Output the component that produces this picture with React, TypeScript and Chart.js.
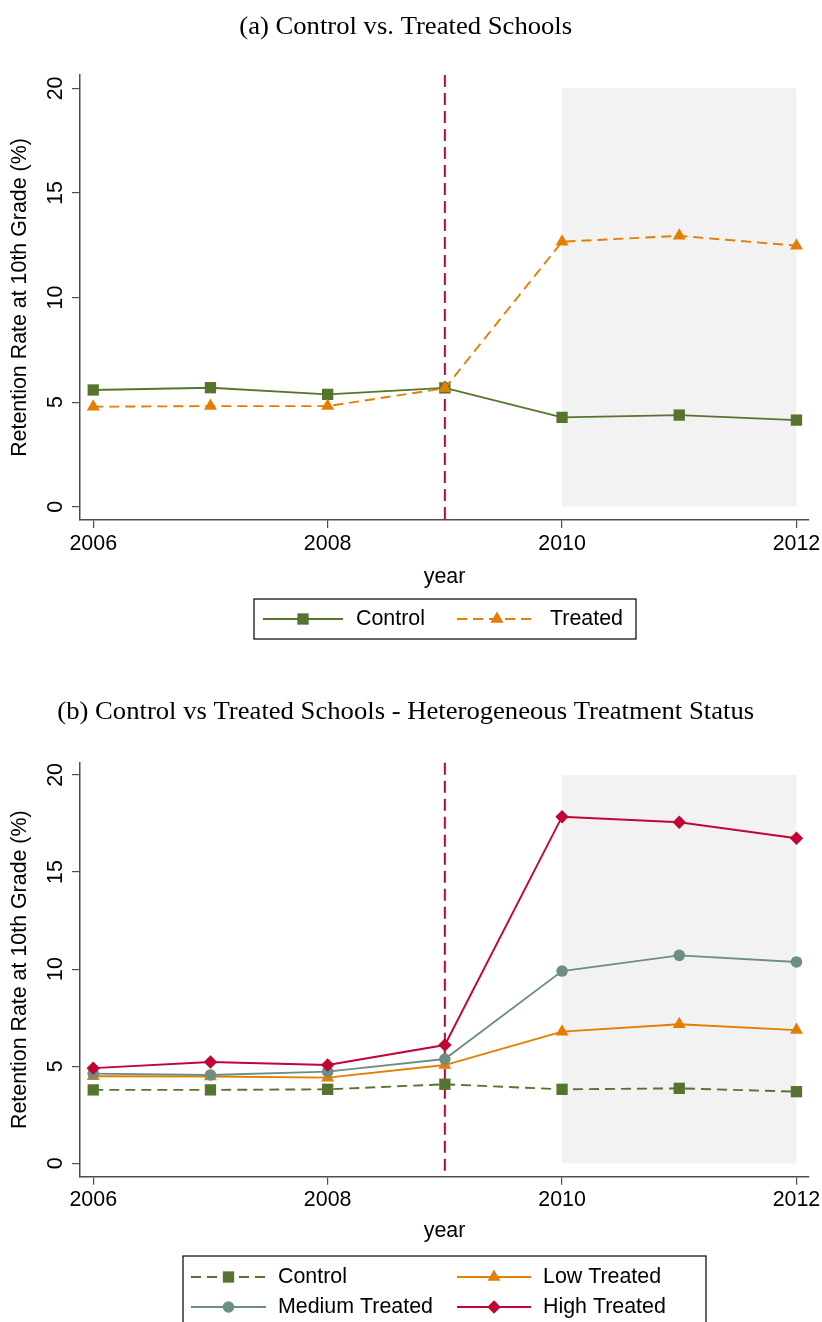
import React, { useEffect, useRef } from 'react';
import { Chart, registerables } from 'chart.js';

Chart.register(...registerables);
Chart.defaults.font.family = '"Liberation Sans", Arial, sans-serif';

// ---------- data ----------
const YEARS = [2006, 2007, 2008, 2009, 2010, 2011, 2012];
const X_TICKS = [2006, 2008, 2010, 2012];
const Y_TICKS = [0, 5, 10, 15, 20];

const A_CONTROL = [5.58, 5.69, 5.37, 5.68, 4.27, 4.38, 4.14];
const A_TREATED = [4.78, 4.81, 4.81, 5.66, 12.67, 12.95, 12.48];

const B_CONTROL = [3.78, 3.78, 3.81, 4.07, 3.81, 3.86, 3.69];
const B_LOW = [4.48, 4.47, 4.41, 5.06, 6.78, 7.16, 6.86];
const B_MEDIUM = [4.62, 4.55, 4.72, 5.37, 9.9, 10.71, 10.37];
const B_HIGH = [4.9, 5.22, 5.06, 6.09, 17.85, 17.56, 16.74];

const TREATMENT_YEAR = 2009;
const SHADE_X = [2010, 2012];
const SHADE_Y = [0, 20];

const TITLE_A = '(a) Control vs. Treated Schools';
const TITLE_B = '(b) Control vs Treated Schools - Heterogeneous Treatment Status';
const Y_TITLE = 'Retention Rate at 10th Grade (%)';
const X_TITLE = 'year';

// ---------- styles ----------
const GREEN = '#55752f';
const ORANGE = '#e37e00';
const SEA = '#6e8e84';
const CRANBERRY = '#c10534';
const AXIS = '#4d4d4d';
const SHADE = '#f2f2f2';
const SANS = '"Liberation Sans", Arial, sans-serif';
const SERIF = '"Liberation Serif", "Times New Roman", serif';
const FONT_SIZE = 21.4;
const DASH = [10, 6];

type Marker = 'rect' | 'triangle' | 'circle' | 'rectRot';
const RADIUS: Record<Marker, number> = { rect: 8, triangle: 7.5, circle: 5.8, rectRot: 6.7 };

interface SeriesDef {
  label: string;
  values: number[];
  color: string;
  dashed: boolean;
  marker: Marker;
  order: number;
}

interface LegendItem {
  series: number;
  x0: number;
  x1: number;
  tx: number;
  y: number;
}

interface PanelDef {
  height: number;
  title: string;
  titleBaseline: number;
  padding: { top: number; right: number; bottom: number; left: number };
  xAxisHeight: number;
  yMin: number;
  yMax: number;
  xMin: number;
  xMax: number;
  series: SeriesDef[];
  legendBox: [number, number, number, number];
  legend: LegendItem[];
}

const PANEL_A: PanelDef = {
  height: 660,
  title: TITLE_A,
  titleBaseline: 34.3,
  padding: { top: 75, right: 13, bottom: 70.4, left: 0 },
  xAxisHeight: 69.6,
  yMin: -0.636,
  yMax: 20.64,
  xMin: 2005.887,
  xMax: 2012.107,
  series: [
    { label: 'Control', values: A_CONTROL, color: GREEN, dashed: false, marker: 'rect', order: 2 },
    { label: 'Treated', values: A_TREATED, color: ORANGE, dashed: true, marker: 'triangle', order: 1 },
  ],
  legendBox: [254, 599, 382, 40],
  legend: [
    { series: 0, x0: 263, x1: 343, tx: 356, y: 619 },
    { series: 1, x0: 457, x1: 537, tx: 550, y: 619 },
  ],
};

const PANEL_B: PanelDef = {
  height: 662,
  title: TITLE_B,
  titleBaseline: 59.3,
  padding: { top: 102.7, right: 13, bottom: 77.7, left: 0 },
  xAxisHeight: 67.6,
  yMin: -0.69,
  yMax: 20.63,
  xMin: 2005.887,
  xMax: 2012.107,
  series: [
    { label: 'Control', values: B_CONTROL, color: GREEN, dashed: true, marker: 'rect', order: 4 },
    { label: 'Low Treated', values: B_LOW, color: ORANGE, dashed: false, marker: 'triangle', order: 3 },
    { label: 'Medium Treated', values: B_MEDIUM, color: SEA, dashed: false, marker: 'circle', order: 2 },
    { label: 'High Treated', values: B_HIGH, color: CRANBERRY, dashed: false, marker: 'rectRot', order: 1 },
  ],
  legendBox: [183, 596, 523, 90],
  legend: [
    { series: 0, x0: 191, x1: 266, tx: 278, y: 617 },
    { series: 1, x0: 457, x1: 531, tx: 543, y: 617 },
    { series: 2, x0: 191, x1: 266, tx: 278, y: 647 },
    { series: 3, x0: 457, x1: 531, tx: 543, y: 647 },
  ],
};

function drawMarker(ctx: CanvasRenderingContext2D, m: Marker, x: number, y: number, color: string) {
  const r = RADIUS[m];
  ctx.save();
  ctx.fillStyle = color;
  ctx.beginPath();
  if (m === 'rect') {
    const s = Math.SQRT1_2 * r;
    ctx.rect(x - s, y - s, 2 * s, 2 * s);
  } else if (m === 'triangle') {
    ctx.moveTo(x, y - r);
    ctx.lineTo(x + 0.866 * r, y + 0.5 * r);
    ctx.lineTo(x - 0.866 * r, y + 0.5 * r);
    ctx.closePath();
  } else if (m === 'circle') {
    ctx.arc(x, y, r, 0, Math.PI * 2);
  } else {
    ctx.moveTo(x - r, y);
    ctx.lineTo(x, y - r);
    ctx.lineTo(x + r, y);
    ctx.lineTo(x, y + r);
    ctx.closePath();
  }
  ctx.fill();
  ctx.restore();
}

function makeChart(canvas: HTMLCanvasElement, p: PanelDef): Chart {
  const decor = {
    id: 'decor',
    beforeDatasetsDraw(chart: any) {
      const { ctx, chartArea } = chart;
      const xs = chart.scales.x;
      const ys = chart.scales.y;
      ctx.save();
      const sx0 = xs.getPixelForValue(SHADE_X[0]);
      const sx1 = xs.getPixelForValue(SHADE_X[1]);
      const sy0 = ys.getPixelForValue(SHADE_Y[1]);
      const sy1 = ys.getPixelForValue(SHADE_Y[0]);
      ctx.fillStyle = SHADE;
      ctx.fillRect(sx0, sy0, sx1 - sx0, sy1 - sy0);
      const vx = xs.getPixelForValue(TREATMENT_YEAR);
      ctx.strokeStyle = CRANBERRY;
      ctx.lineWidth = 2;
      ctx.setLineDash([12, 6]);
      ctx.beginPath();
      ctx.moveTo(vx, chartArea.top);
      ctx.lineTo(vx, chartArea.bottom);
      ctx.stroke();
      ctx.restore();
    },
    afterDraw(chart: any) {
      const { ctx } = chart;
      const ys = chart.scales.y;
      ctx.save();
      ctx.fillStyle = '#000';
      ctx.font = `${FONT_SIZE}px ${SANS}`;
      for (const v of Y_TICKS) {
        const y = ys.getPixelForValue(v);
        ctx.save();
        ctx.translate(61.5, y);
        ctx.rotate(-Math.PI / 2);
        ctx.textAlign = 'center';
        ctx.textBaseline = 'alphabetic';
        ctx.fillText(String(v), 0, 0);
        ctx.restore();
      }
      ctx.save();
      ctx.font = `25px ${SERIF}`;
      ctx.textAlign = 'center';
      ctx.textBaseline = 'alphabetic';
      ctx.translate(405.7, p.titleBaseline);
      ctx.scale(1.066, 1);
      ctx.fillText(p.title, 0, 0);
      ctx.restore();
      const [bx, by, bw, bh] = p.legendBox;
      ctx.strokeStyle = '#000';
      ctx.lineWidth = 1.2;
      ctx.strokeRect(bx, by, bw, bh);
      for (const it of p.legend) {
        const s = p.series[it.series];
        ctx.save();
        ctx.strokeStyle = s.color;
        ctx.lineWidth = 1.9;
        ctx.setLineDash(s.dashed ? DASH : []);
        ctx.beginPath();
        ctx.moveTo(it.x0, it.y);
        ctx.lineTo(it.x1, it.y);
        ctx.stroke();
        ctx.restore();
        drawMarker(ctx, s.marker, (it.x0 + it.x1) / 2, it.y, s.color);
        ctx.fillStyle = '#000';
        ctx.font = `${FONT_SIZE}px ${SANS}`;
        ctx.textAlign = 'left';
        ctx.textBaseline = 'middle';
        ctx.fillText(s.label, it.tx, it.y);
      }
      ctx.restore();
    },
  };

  const font = { size: FONT_SIZE, family: SANS };
  const grid = { drawOnChartArea: false, drawTicks: true, tickLength: 8, color: AXIS, lineWidth: 1.2 };
  const border = { color: AXIS, width: 1.5 };

  return new Chart(canvas, {
    type: 'line',
    data: {
      datasets: p.series.map((s) => ({
        label: s.label,
        data: YEARS.map((x, i) => ({ x, y: s.values[i] })),
        borderColor: s.color,
        backgroundColor: s.color,
        borderWidth: 1.9,
        borderDash: s.dashed ? DASH : [],
        tension: 0,
        fill: false,
        pointStyle: s.marker,
        pointRadius: RADIUS[s.marker],
        pointBorderWidth: 0,
        pointBackgroundColor: s.color,
        pointBorderColor: s.color,
        order: s.order,
        clip: false as any,
      })),
    },
    options: {
      responsive: false,
      animation: false,
      devicePixelRatio: 1,
      layout: { padding: p.padding },
      plugins: { legend: { display: false }, tooltip: { enabled: false }, title: { display: false } },
      events: [],
      scales: {
        x: {
          type: 'linear',
          min: p.xMin,
          max: p.xMax,
          afterBuildTicks: (s: any) => {
            s.ticks = X_TICKS.map((v) => ({ value: v }));
          },
          afterFit: (s: any) => {
            s.height = p.xAxisHeight;
            s.paddingLeft = 0;
            s.paddingRight = 0;
          },
          grid,
          border,
          ticks: {
            font,
            color: '#000',
            padding: 3,
            maxRotation: 0,
            minRotation: 0,
            autoSkip: false,
            callback: (v: any) => String(v),
          },
          title: { display: true, text: X_TITLE, font, color: '#000', padding: 0 },
        },
        y: {
          type: 'linear',
          min: p.yMin,
          max: p.yMax,
          afterBuildTicks: (s: any) => {
            s.ticks = Y_TICKS.map((v) => ({ value: v }));
          },
          afterFit: (s: any) => {
            s.width = 80;
            s.paddingTop = 0;
            s.paddingBottom = 0;
          },
          grid,
          border,
          ticks: { display: false },
          title: { display: true, text: Y_TITLE, font, color: '#000', padding: { top: 7.2, bottom: 0 } },
        },
      },
    } as any,
    plugins: [decor],
  });
}

function Panel({ def }: { def: PanelDef }) {
  const ref = useRef<HTMLCanvasElement>(null);
  useEffect(() => {
    if (!ref.current) return;
    const chart = makeChart(ref.current, def);
    return () => chart.destroy();
  }, [def]);
  return <canvas ref={ref} width={822} height={def.height} style={{ display: 'block', width: 822, height: def.height }} />;
}

export default function App() {
  useEffect(() => {
    document.body.style.margin = '0';
  }, []);
  return (
    <div style={{ width: 822, height: 1322, background: '#fff', overflow: 'hidden' }}>
      <Panel def={PANEL_A} />
      <Panel def={PANEL_B} />
    </div>
  );
}
